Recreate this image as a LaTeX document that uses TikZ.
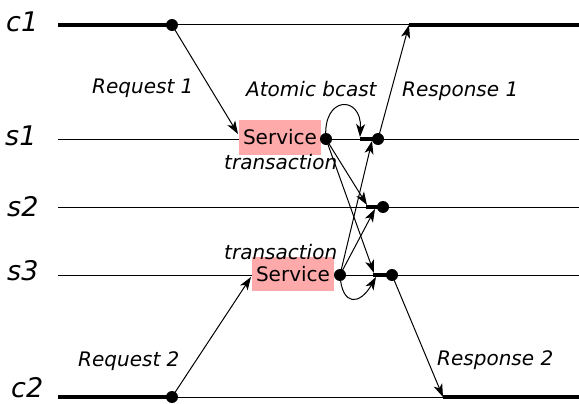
\documentclass[tikz,border=0pt]{standalone}
\usepackage{fontspec}
\setmainfont{DejaVu Sans}
\usetikzlibrary{arrows.meta}
\definecolor{svcpink}{HTML}{FFAAAA}
\begin{document}
\begin{tikzpicture}[x=1pt,y=-1pt,
  thin line/.style={line width=1pt},
  thick line/.style={line width=4.2pt},
  dot/.style={circle,fill=black,inner sep=0pt,minimum size=12pt},
  msg/.style={line width=1pt,-{Stealth[length=13pt,width=9pt,inset=3.5pt]}},
  proc/.style={font=\fontsize{27}{30}\selectfont\itshape,inner sep=0pt,anchor=base west},
  lbl/.style={font=\fontsize{20}{24}\selectfont\itshape,inner sep=0pt,anchor=base west},
  svc/.style={fill=svcpink,minimum width=82pt,minimum height=34pt,inner sep=0pt,
              font=\fontsize{20}{24}\selectfont}]
\useasboundingbox (0,0) rectangle (579,404);

% process names
\node[proc] (nc1) at (6,32)  {c1};
\node[proc] (ns1) at (5,146) {s1};
\node[proc] (ns2) at (7,216) {s2};
\node[proc] (ns3) at (7,280) {s3};
\node[proc] (nc2) at (11,397.5) {c2};

% line ends
\coordinate (c1L) at (58,25);   \coordinate (c1R) at (579,25);
\coordinate (s1L) at (58,139);  \coordinate (s1R) at (579,139);
\coordinate (s2L) at (58,207);  \coordinate (s2R) at (579,207);
\coordinate (s3L) at (58,275);  \coordinate (s3R) at (579,275);
\coordinate (c2L) at (58,397);  \coordinate (c2R) at (579,397);

% arrival points on the lines
\coordinate (c1in) at (409,25);
\coordinate (c2in) at (443,397);
\coordinate (s1in) at (360,139);
\coordinate (s2in) at (366,207);
\coordinate (s3in) at (373,275);

% time lines
\draw[thin line] (s1L) -- (s1R);
\draw[thin line] (s2L) -- (s2R);
\draw[thin line] (s3L) -- (s3R);
\draw[thin line] (c1L) -- (c1R);
\draw[thin line] (c2L) -- (c2R);
\draw[thick line] (c1L) -- (172,25);
\draw[thick line] (c1in) -- (c1R);
\draw[thick line] (c2L) -- (172,397);
\draw[thick line] (c2in) -- (c2R);

% service boxes
\node[svc] (svc1) at (280,137.5) {Service};
\node[svc] (svc3) at (293,274) {Service};

% dots
\node[dot] (c1a) at (172,25) {};
\node[dot] (c2a) at (172,397) {};
\node[dot] (s1a) at (326,139) {};
\node[dot] (s3a) at (340,275) {};
\node[dot] (s1b) at (378,139) {};
\node[dot] (s2b) at (383,207) {};
\node[dot] (s3b) at (392,275) {};

% delivery segments
\draw[thick line] (s1in) -- (s1b.center);
\draw[thick line] (s2in) -- (s2b.center);
\draw[thick line] (s3in) -- (s3b.center);

% arrow tips
\coordinate (req1tip) at (238,134);
\coordinate (req2tip) at (251,277);
\coordinate (t11) at (360,137);
\coordinate (t12) at (367,205);
\coordinate (t13) at (374,273);
\coordinate (t31) at (372,141);
\coordinate (t32) at (375,209);
\coordinate (t33) at (376,277);

% requests
\draw[msg] (c1a.center) -- (req1tip);
\draw[msg] (c2a.center) -- (req2tip);

% atomic broadcast from s1
\draw[msg] (s1a.center) .. controls (322,95) and (362,95) .. (t11);
\draw[msg] (s1a.center) -- (t12);
\draw[msg] (s1a.center) -- (t13);

% atomic broadcast from s3
\draw[msg] (s3a.center) -- (t31);
\draw[msg] (s3a.center) -- (t32);
\draw[msg] (s3a.center) .. controls (342,307) and (360,305) .. (t33);

% responses
\draw[msg] (s1b.center) -- (c1in);
\draw[msg] (s3b.center) -- (c2in);

% labels
\node[lbl] (lreq1) at (92,94) {Request 1};
\node[lbl] (lreq2) at (78,366) {Request 2};
\node[lbl] (lbc) at (246,97) {Atomic bcast};
\node[lbl] (lres1) at (402,97) {Response 1};
\node[lbl] (lres2) at (437,365) {Response 2};
\node[lbl] (ltr1) at (224,169) {transaction};
\node[lbl] (ltr3) at (224,259) {transaction};
\end{tikzpicture}
\end{document}
